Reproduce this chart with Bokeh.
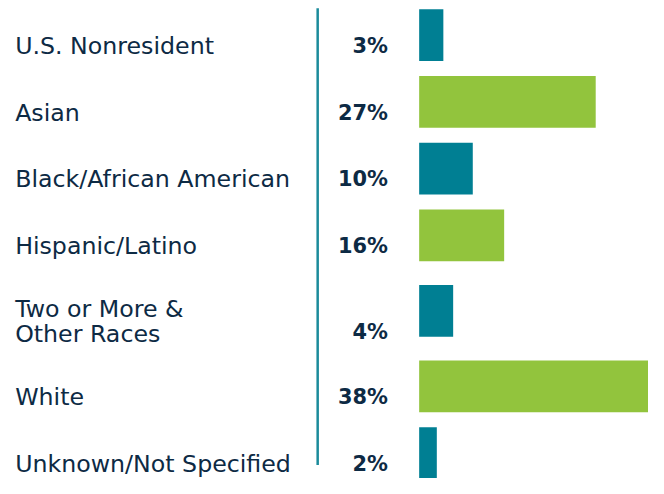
import numpy as np
from bokeh.plotting import figure
from bokeh.models import ColumnDataSource, Range1d
from bokeh.core.properties import value
from bokeh.embed import file_html
from bokeh.resources import INLINE

# ---- data ----
categories = [
    "U.S. Nonresident",
    "Asian",
    "Black/African American",
    "Hispanic/Latino",
    "Two or More &\nOther Races",
    "White",
    "Unknown/Not Specified",
]
pct_labels = ["3%", "27%", "10%", "16%", "4%", "38%", "2%"]
# bar lengths as drawn in the picture (percent units)
bar_lengths = [3.7, 27.0, 8.2, 13.0, 5.2, 38.0, 2.7]

# ---- layout / style (design measured on a 664x494 canvas) ----
REF_W, REF_H = 664, 494
W, H = 648, 478
S = (W / REF_W + H / REF_H) / 2.0   # overall scale for sizes
PX_PER_PCT = 6.7          # horizontal scale (design px)
ROW_PX = 69               # row pitch (design px)
BAR_LEFT_PX = 429         # where bars start (design px)
ROW0_PX = 35.8            # centre of first row (design px)
BAR_H_PX = 53.5
GAP = 0.13                # extra space around multi-line rows (row units)
TEAL = "#007f93"
GREEN = "#92c43d"
NAVY = "#0d2a44"
LINE = "#1b8b9b"
FONT = "DejaVu Sans"
LINE_H = 0.88
CAT_SIZE = 24.4 * S
PCT_SIZE = 21.5 * S
TXT_OFF = 11 * S

n = len(categories)
nlines = np.array([c.count("\n") + 1 for c in categories])
multi = nlines > 1
ypos = []
acc = 0.0
for i in range(n):
    if i > 0 and (multi[i] or multi[i - 1]):
        acc += GAP
    ypos.append(i + acc)
ypos = np.array(ypos)

colors = [TEAL if i % 2 == 0 else GREEN for i in range(n)]
pct_off = TXT_OFF + (nlines - 1) * CAT_SIZE * LINE_H / 2.0

def px_x(px):
    return (px - BAR_LEFT_PX) / PX_PER_PCT

def px_y(px):
    return (px - ROW0_PX) / ROW_PX

src = ColumnDataSource(dict(
    y=ypos, length=bar_lengths, cat=categories, pct=pct_labels,
    color=colors, pct_off=pct_off,
))

p = figure(
    width=W, height=H,
    x_range=Range1d(px_x(0), px_x(REF_W)),
    y_range=Range1d(px_y(REF_H), px_y(0)),
    x_axis_location=None, y_axis_location=None,
    toolbar_location=None, output_backend="svg",
    min_border=0, outline_line_color=None,
    background_fill_color="white", border_fill_color="white",
)
p.grid.visible = False

p.hbar(y="y", left=0, right="length", height=BAR_H_PX / ROW_PX,
       fill_color="color", line_color=None, source=src)

p.text(x=px_x(15), y="y", text="cat", source=src,
       text_font=value(FONT), text_font_size=f"{CAT_SIZE:.1f}px",
       text_color=NAVY, text_align="left", text_baseline="middle",
       text_line_height=LINE_H, y_offset=TXT_OFF)

p.text(x=px_x(397), y="y", text="pct", source=src,
       text_font=value(FONT), text_font_size=f"{PCT_SIZE:.1f}px",
       text_font_style="bold",
       text_color=NAVY, text_align="right", text_baseline="middle",
       y_offset="pct_off")

p.segment(x0=px_x(325), y0=px_y(8), x1=px_x(325), y1=px_y(480),
          line_color=LINE, line_width=2.5)

open("out.html", "w").write(file_html(p, INLINE))
